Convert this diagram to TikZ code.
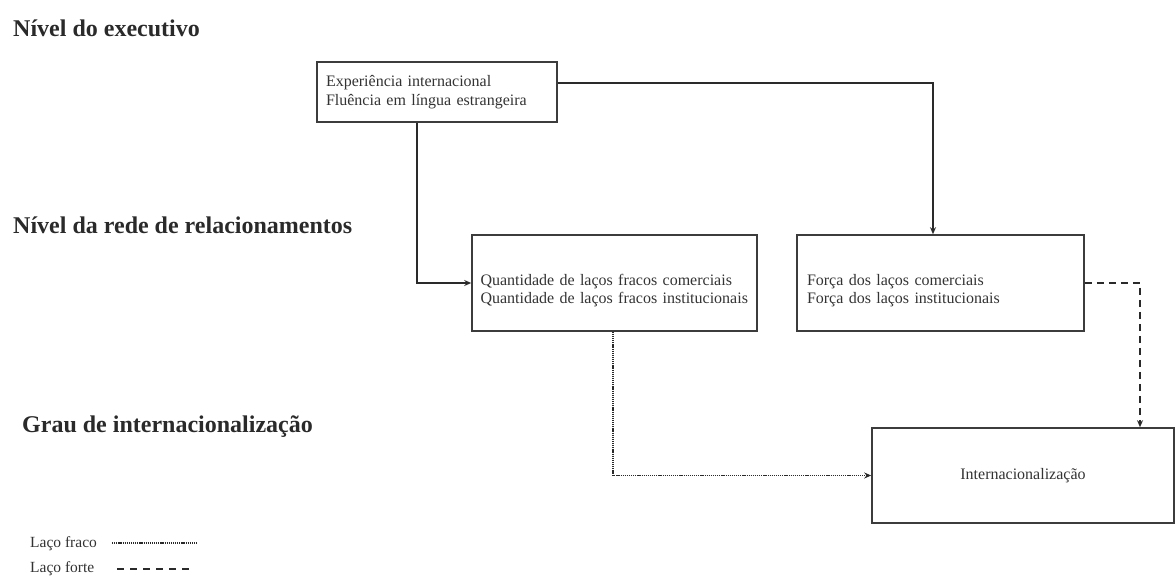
\documentclass[tikz,border=0pt]{standalone}
\usepackage{fontspec}
\setmainfont{Liberation Serif}
\usetikzlibrary{arrows.meta}
\definecolor{ink}{HTML}{2A2A2A}
\definecolor{boxline}{HTML}{3C3C3C}
\definecolor{txt}{HTML}{333333}
\tikzset{
  heading/.style={anchor=west, text=ink, font=\fontsize{24}{28}\selectfont\bfseries, inner sep=0pt},
  framebox/.style={draw=boxline, line width=1.6pt, rectangle, inner xsep=9pt, inner ysep=0pt,
    text=txt, font=\fontsize{16}{18.5}\selectfont, align=left},
  legendtxt/.style={anchor=west, text=txt, font=\fontsize{15.5}{17}\selectfont, inner sep=0pt},
  arr/.style={draw=ink, line width=1.5pt, -{Stealth[length=7pt,width=6pt]}},
  weaktie/.style={draw=ink, line width=1.4pt, dash pattern=on 1.2pt off 0.9pt},
  strongtie/.style={draw=ink, line width=1.5pt, dash pattern=on 7pt off 5pt},
}
\begin{document}
\begin{tikzpicture}[x=1pt,y=-1pt]
\useasboundingbox (0,0) rectangle (1176,577);

% level headings
\node[heading] (h1) at (13,28) {Nível do executivo};
\node[heading] (h2) at (13,225) {Nível da rede de relacionamentos};
\node[heading] (h3) at (22,427) {Grau de internacionalização};

% boxes
\node[framebox, minimum width=240pt, minimum height=60pt, text width=222pt] (exec) at (437,92)
  {Experiência internacional\\Fluência em língua estrangeira};
\node[framebox, minimum width=285pt, minimum height=96pt, text width=268pt, inner xsep=8.5pt] (weak) at (614.5,283)
  {\rule{0pt}{26pt}Quantidade de laços fracos comerciais\\Quantidade de laços fracos institucionais};
\node[framebox, minimum width=287pt, minimum height=96pt, text width=267pt, inner xsep=10pt] (strong) at (940.5,283)
  {\rule{0pt}{26pt}Força dos laços comerciais\\Força dos laços institucionais};
\node[framebox, minimum width=302pt, minimum height=95pt, align=center] (intl) at (1023,475.5)
  {Internacionalização};

% connectors
\coordinate (k1) at (417,0);
\draw[arr] (k1 |- exec.south) |- (weak.west);
\draw[arr] ([yshift=9pt]exec.east) -| ([xshift=-7.5pt]strong.north);
\draw[arr, strongtie] (strong.east) -| ([xshift=117pt]intl.north);
\draw[arr, weaktie] ([xshift=-1.5pt]weak.south) |- (intl.west);

% legend
\node[legendtxt] (lw) at (30,544) {Laço fraco};
\node[legendtxt] (ls) at (30,569) {Laço forte};
\coordinate (lwa) at (112,543);
\coordinate (lwb) at (197,543);
\coordinate (lsa) at (117,569);
\coordinate (lsb) at (192,569);
\draw[weaktie, line width=1.1pt] (lwa) -- (lwb);
\draw[strongtie, line width=1.3pt, dash pattern=on 7pt off 6pt] (lsa) -- (lsb);
\end{tikzpicture}
\end{document}
